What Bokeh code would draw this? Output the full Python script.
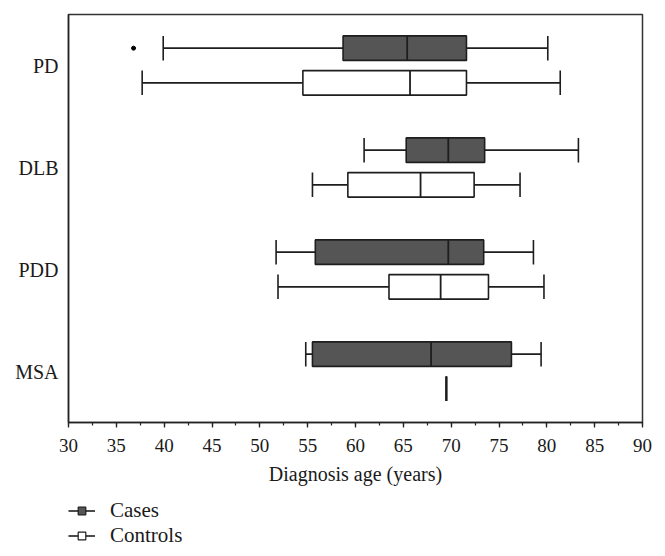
from bokeh.plotting import figure
from bokeh.layouts import column
from bokeh.models import (Range1d, SingleIntervalTicker, FixedTicker, Legend, LegendItem,
                          ColumnDataSource)
from bokeh.embed import file_html
from bokeh.resources import INLINE

categories = ["PD", "DLB", "PDD", "MSA"]

cases_wlo = [39.9, 60.9, 51.7, 54.8]
cases_q1 = [58.7, 65.3, 55.8, 55.5]
cases_med = [65.4, 69.7, 69.7, 67.9]
cases_q3 = [71.6, 73.5, 73.4, 76.3]
cases_whi = [80.1, 83.3, 78.6, 79.4]
cases_outlier_cat = ["PD"]
cases_outlier_val = [36.8]

controls_wlo = [37.7, 55.5, 51.9, 69.5]
controls_q1 = [54.5, 59.2, 63.5, 69.5]
controls_med = [65.7, 66.8, 68.9, 69.5]
controls_q3 = [71.6, 72.4, 73.9, 69.5]
controls_whi = [81.4, 77.2, 79.7, 69.5]

legend_labels = ["Cases", "Controls"]

FONT = "Liberation Serif"
EDGE = "#1e1e1e"
CASE_FILL = "#555555"
TEXT = "#1a1a1a"

p = figure(width=657, height=490, x_range=Range1d(30, 90), y_range=Range1d(3.5, -0.5),
           output_backend="svg", toolbar_location=None,
           min_border_left=68, min_border_right=15, min_border_top=14, min_border_bottom=68)
p.xgrid.visible = False
p.ygrid.visible = False
p.outline_line_color = "#333333"
p.outline_line_width = 1.5
p.background_fill_color = "white"
p.border_fill_color = "white"

BOX_H = 0.24
OFF = 0.17


def draw(wlo, q1, med, q3, whi, offset, fill):
    ys = [i + offset for i in range(len(categories))]
    src = ColumnDataSource(dict(y=ys, wlo=wlo, q1=q1, med=med, q3=q3, whi=whi,
                                ylo=[y - BOX_H / 2 for y in ys], yhi=[y + BOX_H / 2 for y in ys]))
    p.segment(x0="wlo", y0="y", x1="q1", y1="y", source=src, line_color=EDGE, line_width=1.6)
    p.segment(x0="q3", y0="y", x1="whi", y1="y", source=src, line_color=EDGE, line_width=1.6)
    p.segment(x0="wlo", y0="ylo", x1="wlo", y1="yhi", source=src, line_color=EDGE, line_width=1.6)
    p.segment(x0="whi", y0="ylo", x1="whi", y1="yhi", source=src, line_color=EDGE, line_width=1.6)
    p.hbar(y="y", left="q1", right="q3", height=BOX_H, source=src, fill_color=fill,
           line_color=EDGE, line_width=1.6)
    p.segment(x0="med", y0="ylo", x1="med", y1="yhi", source=src, line_color=EDGE, line_width=1.8)


draw(cases_wlo, cases_q1, cases_med, cases_q3, cases_whi, -OFF, CASE_FILL)
draw(controls_wlo, controls_q1, controls_med, controls_q3, controls_whi, OFF, "white")

oy = [categories.index(c) - OFF for c in cases_outlier_cat]
p.scatter(cases_outlier_val, oy, size=4, color="black")

# x axis
xa = p.xaxis[0]
xa.ticker = SingleIntervalTicker(interval=5, num_minor_ticks=2)
xa.major_tick_out = 5
xa.major_tick_in = 0
xa.minor_tick_out = 3
xa.minor_tick_in = 0
xa.axis_line_color = "#222222"
xa.axis_line_width = 1.5
xa.major_tick_line_color = "#222222"
xa.major_tick_line_width = 1.3
xa.minor_tick_line_color = "#222222"
xa.minor_tick_line_width = 1.2
xa.major_label_text_font = FONT
xa.major_label_text_font_size = "19px"
xa.major_label_text_color = TEXT
xa.major_label_standoff = 11
xa.axis_label = "Diagnosis age (years)"
xa.axis_label_text_font = FONT
xa.axis_label_text_font_size = "20px"
xa.axis_label_text_font_style = "normal"
xa.axis_label_text_color = TEXT
xa.axis_label_standoff = 8

# y axis
ya = p.yaxis[0]
ya.ticker = FixedTicker(ticks=list(range(len(categories))))
ya.major_label_overrides = {i: c for i, c in enumerate(categories)}
ya.major_tick_out = 0
ya.major_tick_in = 0
ya.minor_tick_line_color = None
ya.axis_line_color = "#222222"
ya.axis_line_width = 1.5
ya.major_label_text_font = FONT
ya.major_label_text_font_size = "20px"
ya.major_label_text_color = TEXT
ya.major_label_standoff = 10

# legend strip under the chart
q = figure(width=657, height=58, x_range=Range1d(0, 1), y_range=Range1d(0, 1),
           output_backend="svg", toolbar_location=None, x_axis_type=None, y_axis_type=None,
           min_border_left=68, min_border_right=15, min_border_top=0, min_border_bottom=0)
q.outline_line_color = None
q.xgrid.visible = False
q.ygrid.visible = False

# proxy renderers placed outside the visible range; they only supply legend glyphs
far = [5, 6]
l_line1 = q.line(x=far, y=far, line_color=EDGE, line_width=1.6)
l_sq1 = q.scatter(x=far, y=far, marker="square", size=8, fill_color=CASE_FILL, line_color=EDGE,
                  line_width=1.2)
l_line2 = q.line(x=far, y=far, line_color=EDGE, line_width=1.6)
l_sq2 = q.scatter(x=far, y=far, marker="square", size=8, fill_color="white", line_color=EDGE,
                  line_width=1.2)

legend = Legend(items=[LegendItem(label=legend_labels[0], renderers=[l_line1, l_sq1]),
                       LegendItem(label=legend_labels[1], renderers=[l_line2, l_sq2])],
                location=(0, 0), orientation="vertical",
                glyph_width=27, glyph_height=19, label_height=24, spacing=0,
                label_standoff=15, padding=0, margin=0,
                label_text_font=FONT, label_text_font_size="21px", label_text_color=TEXT,
                border_line_color=None, background_fill_alpha=0)
q.add_layout(legend, "center")

layout = column(p, q, spacing=0)
open("out.html", "w").write(file_html(layout, INLINE))
